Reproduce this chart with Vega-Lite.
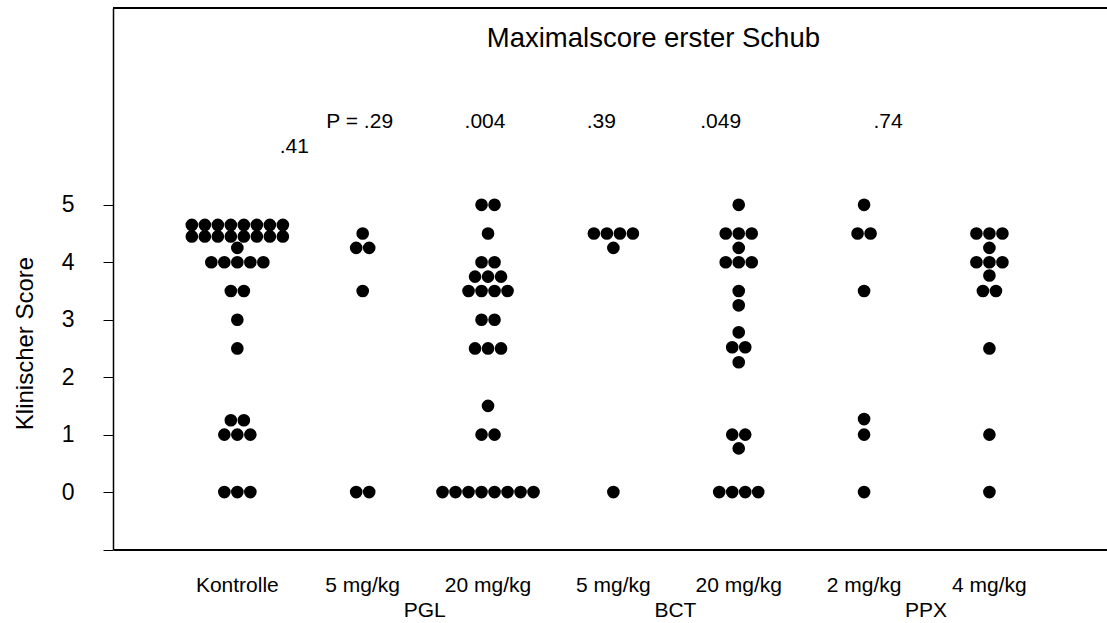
{
  "$schema": "https://vega.github.io/schema/vega-lite/v6.json",
  "width": 994,
  "height": 541.5,
  "autosize": {"type": "none"},
  "padding": {"left": 113, "top": 8, "right": 0, "bottom": 73.5},
  "background": "white",
  "config": {"view": {"stroke": null}, "font": "Liberation Sans"},
  "datasets": {
    "dots": [
      {"group": "K|Kontrolle", "score": 4.65}, {"group": "K|Kontrolle", "score": 4.65}, {"group": "K|Kontrolle", "score": 4.65}, {"group": "K|Kontrolle", "score": 4.65},
      {"group": "K|Kontrolle", "score": 4.65}, {"group": "K|Kontrolle", "score": 4.65}, {"group": "K|Kontrolle", "score": 4.65}, {"group": "K|Kontrolle", "score": 4.65},
      {"group": "K|Kontrolle", "score": 4.45}, {"group": "K|Kontrolle", "score": 4.45}, {"group": "K|Kontrolle", "score": 4.45}, {"group": "K|Kontrolle", "score": 4.45},
      {"group": "K|Kontrolle", "score": 4.45}, {"group": "K|Kontrolle", "score": 4.45}, {"group": "K|Kontrolle", "score": 4.45}, {"group": "K|Kontrolle", "score": 4.45},
      {"group": "K|Kontrolle", "score": 4.25},
      {"group": "K|Kontrolle", "score": 4.0}, {"group": "K|Kontrolle", "score": 4.0}, {"group": "K|Kontrolle", "score": 4.0}, {"group": "K|Kontrolle", "score": 4.0}, {"group": "K|Kontrolle", "score": 4.0},
      {"group": "K|Kontrolle", "score": 3.5}, {"group": "K|Kontrolle", "score": 3.5},
      {"group": "K|Kontrolle", "score": 3.0},
      {"group": "K|Kontrolle", "score": 2.5},
      {"group": "K|Kontrolle", "score": 1.25}, {"group": "K|Kontrolle", "score": 1.25},
      {"group": "K|Kontrolle", "score": 1.0}, {"group": "K|Kontrolle", "score": 1.0}, {"group": "K|Kontrolle", "score": 1.0},
      {"group": "K|Kontrolle", "score": 0}, {"group": "K|Kontrolle", "score": 0}, {"group": "K|Kontrolle", "score": 0},

      {"group": "PGL|5 mg/kg", "score": 4.5},
      {"group": "PGL|5 mg/kg", "score": 4.25}, {"group": "PGL|5 mg/kg", "score": 4.25},
      {"group": "PGL|5 mg/kg", "score": 3.5},
      {"group": "PGL|5 mg/kg", "score": 0}, {"group": "PGL|5 mg/kg", "score": 0},

      {"group": "PGL|20 mg/kg", "score": 5.0}, {"group": "PGL|20 mg/kg", "score": 5.0},
      {"group": "PGL|20 mg/kg", "score": 4.5},
      {"group": "PGL|20 mg/kg", "score": 4.0}, {"group": "PGL|20 mg/kg", "score": 4.0},
      {"group": "PGL|20 mg/kg", "score": 3.75}, {"group": "PGL|20 mg/kg", "score": 3.75}, {"group": "PGL|20 mg/kg", "score": 3.75},
      {"group": "PGL|20 mg/kg", "score": 3.5}, {"group": "PGL|20 mg/kg", "score": 3.5}, {"group": "PGL|20 mg/kg", "score": 3.5}, {"group": "PGL|20 mg/kg", "score": 3.5},
      {"group": "PGL|20 mg/kg", "score": 3.0}, {"group": "PGL|20 mg/kg", "score": 3.0},
      {"group": "PGL|20 mg/kg", "score": 2.5}, {"group": "PGL|20 mg/kg", "score": 2.5}, {"group": "PGL|20 mg/kg", "score": 2.5},
      {"group": "PGL|20 mg/kg", "score": 1.5},
      {"group": "PGL|20 mg/kg", "score": 1.0}, {"group": "PGL|20 mg/kg", "score": 1.0},
      {"group": "PGL|20 mg/kg", "score": 0}, {"group": "PGL|20 mg/kg", "score": 0}, {"group": "PGL|20 mg/kg", "score": 0}, {"group": "PGL|20 mg/kg", "score": 0},
      {"group": "PGL|20 mg/kg", "score": 0}, {"group": "PGL|20 mg/kg", "score": 0}, {"group": "PGL|20 mg/kg", "score": 0}, {"group": "PGL|20 mg/kg", "score": 0},

      {"group": "BCT|5 mg/kg", "score": 4.5}, {"group": "BCT|5 mg/kg", "score": 4.5}, {"group": "BCT|5 mg/kg", "score": 4.5}, {"group": "BCT|5 mg/kg", "score": 4.5},
      {"group": "BCT|5 mg/kg", "score": 4.25},
      {"group": "BCT|5 mg/kg", "score": 0},

      {"group": "BCT|20 mg/kg", "score": 5.0},
      {"group": "BCT|20 mg/kg", "score": 4.5}, {"group": "BCT|20 mg/kg", "score": 4.5}, {"group": "BCT|20 mg/kg", "score": 4.5},
      {"group": "BCT|20 mg/kg", "score": 4.25},
      {"group": "BCT|20 mg/kg", "score": 4.0}, {"group": "BCT|20 mg/kg", "score": 4.0}, {"group": "BCT|20 mg/kg", "score": 4.0},
      {"group": "BCT|20 mg/kg", "score": 3.5},
      {"group": "BCT|20 mg/kg", "score": 3.25},
      {"group": "BCT|20 mg/kg", "score": 2.78},
      {"group": "BCT|20 mg/kg", "score": 2.52}, {"group": "BCT|20 mg/kg", "score": 2.52},
      {"group": "BCT|20 mg/kg", "score": 2.26},
      {"group": "BCT|20 mg/kg", "score": 1.0}, {"group": "BCT|20 mg/kg", "score": 1.0},
      {"group": "BCT|20 mg/kg", "score": 0.76},
      {"group": "BCT|20 mg/kg", "score": 0}, {"group": "BCT|20 mg/kg", "score": 0}, {"group": "BCT|20 mg/kg", "score": 0}, {"group": "BCT|20 mg/kg", "score": 0},

      {"group": "PPX|2 mg/kg", "score": 5.0},
      {"group": "PPX|2 mg/kg", "score": 4.5}, {"group": "PPX|2 mg/kg", "score": 4.5},
      {"group": "PPX|2 mg/kg", "score": 3.5},
      {"group": "PPX|2 mg/kg", "score": 1.27},
      {"group": "PPX|2 mg/kg", "score": 1.0},
      {"group": "PPX|2 mg/kg", "score": 0},

      {"group": "PPX|4 mg/kg", "score": 4.5}, {"group": "PPX|4 mg/kg", "score": 4.5}, {"group": "PPX|4 mg/kg", "score": 4.5},
      {"group": "PPX|4 mg/kg", "score": 4.25},
      {"group": "PPX|4 mg/kg", "score": 4.0}, {"group": "PPX|4 mg/kg", "score": 4.0}, {"group": "PPX|4 mg/kg", "score": 4.0},
      {"group": "PPX|4 mg/kg", "score": 3.77},
      {"group": "PPX|4 mg/kg", "score": 3.5}, {"group": "PPX|4 mg/kg", "score": 3.5},
      {"group": "PPX|4 mg/kg", "score": 2.5},
      {"group": "PPX|4 mg/kg", "score": 1.0},
      {"group": "PPX|4 mg/kg", "score": 0}
    ]
  },
  "layer": [
    {
      "data": {"name": "dots"},
      "transform": [
        {"window": [{"op": "row_number", "as": "rn"}], "groupby": ["group", "score"]},
        {"joinaggregate": [{"op": "count", "as": "n"}], "groupby": ["group", "score"]},
        {"calculate": "datum.rn - (datum.n + 1) / 2", "as": "slot"}
      ],
      "mark": {"type": "circle", "size": 160, "color": "black", "opacity": 1},
      "encoding": {
        "x": {
          "field": "group",
          "type": "nominal",
          "scale": {
            "type": "band",
            "domain": ["K|Kontrolle", "PGL|5 mg/kg", "PGL|20 mg/kg", "BCT|5 mg/kg", "BCT|20 mg/kg", "PPX|2 mg/kg", "PPX|4 mg/kg"],
            "paddingInner": 0,
            "paddingOuter": 0.465,
            "align": 0.529
          },
          "axis": {
            "title": null,
            "ticks": false,
            "domainColor": "black",
            "domainWidth": 2,
            "labelAngle": 0,
            "labelFont": "Liberation Sans",
            "labelFontSize": 21,
            "labelColor": "black",
            "labelPadding": 25,
            "labelExpr": "split(datum.value, '|')[1]"
          }
        },
        "y": {
          "field": "score",
          "type": "quantitative",
          "scale": {"domain": [-1, 8.426], "nice": false, "zero": false},
          "axis": {
            "title": "Klinischer Score",
            "values": [-1, 0, 1, 2, 3, 4, 5],
            "format": "d",
            "labelExpr": "datum.value < 0 ? '' : datum.label",
            "grid": false,
            "domainColor": "black",
            "domainWidth": 1.5,
            "tickColor": "black",
            "tickSize": 10,
            "tickWidth": 1,
            "labelFont": "Liberation Sans",
            "labelFontSize": 23,
            "labelColor": "black",
            "labelPadding": 29,
            "titleFont": "Liberation Sans",
            "titleFontSize": 24,
            "titleFontWeight": "normal",
            "titleColor": "black",
            "titlePadding": 24,
            "titleY": 335
          }
        },
        "xOffset": {"field": "slot", "type": "quantitative", "scale": {"domain": [-4.82, 4.82]}}
      }
    },
    {
      "data": {"values": [{"line": "top"}]},
      "mark": {"type": "rule", "color": "black", "strokeWidth": 2},
      "encoding": {"y": {"datum": 8.426, "type": "quantitative"}}
    },
    {
      "data": {"values": [{"group": "BCT|5 mg/kg", "label": "Maximalscore erster Schub"}]},
      "mark": {"type": "text", "font": "Liberation Sans", "fontSize": 27.5, "color": "black", "baseline": "alphabetic", "align": "center", "dx": 40},
      "encoding": {"x": {"field": "group", "type": "nominal"}, "text": {"field": "label"}, "y": {"datum": 7.75, "type": "quantitative"}}
    },
    {
      "data": {"values": [{"group": "PGL|5 mg/kg", "label": "P = .29"}, {"group": "PGL|20 mg/kg", "label": ".004"}]},
      "mark": {"type": "text", "font": "Liberation Sans", "fontSize": 21, "color": "black", "baseline": "alphabetic", "align": "center", "dx": -3},
      "encoding": {"x": {"field": "group", "type": "nominal"}, "text": {"field": "label"}, "y": {"datum": 6.34, "type": "quantitative"}}
    },
    {
      "data": {"values": [{"group": "BCT|5 mg/kg", "label": ".39"}]},
      "mark": {"type": "text", "font": "Liberation Sans", "fontSize": 21, "color": "black", "baseline": "alphabetic", "align": "center", "dx": -12},
      "encoding": {"x": {"field": "group", "type": "nominal"}, "text": {"field": "label"}, "y": {"datum": 6.34, "type": "quantitative"}}
    },
    {
      "data": {"values": [{"group": "BCT|20 mg/kg", "label": ".049"}]},
      "mark": {"type": "text", "font": "Liberation Sans", "fontSize": 21, "color": "black", "baseline": "alphabetic", "align": "center", "dx": -18},
      "encoding": {"x": {"field": "group", "type": "nominal"}, "text": {"field": "label"}, "y": {"datum": 6.34, "type": "quantitative"}}
    },
    {
      "data": {"values": [{"group": "PPX|2 mg/kg", "label": ".74"}]},
      "mark": {"type": "text", "font": "Liberation Sans", "fontSize": 21, "color": "black", "baseline": "alphabetic", "align": "center", "dx": 24},
      "encoding": {"x": {"field": "group", "type": "nominal"}, "text": {"field": "label"}, "y": {"datum": 6.34, "type": "quantitative"}}
    },
    {
      "data": {"values": [{"group": "K|Kontrolle", "label": ".41"}]},
      "mark": {"type": "text", "font": "Liberation Sans", "fontSize": 21, "color": "black", "baseline": "alphabetic", "align": "center", "dx": 57},
      "encoding": {"x": {"field": "group", "type": "nominal"}, "text": {"field": "label"}, "y": {"datum": 5.9, "type": "quantitative"}}
    },
    {
      "data": {"values": [{"group": "PGL|5 mg/kg", "label": "PGL"}, {"group": "BCT|5 mg/kg", "label": "BCT"}, {"group": "PPX|2 mg/kg", "label": "PPX"}]},
      "mark": {"type": "text", "font": "Liberation Sans", "fontSize": 21, "color": "black", "baseline": "alphabetic", "align": "center", "dx": 62},
      "encoding": {"x": {"field": "group", "type": "nominal"}, "text": {"field": "label"}, "y": {"datum": -2.18, "type": "quantitative"}}
    }
  ]
}
